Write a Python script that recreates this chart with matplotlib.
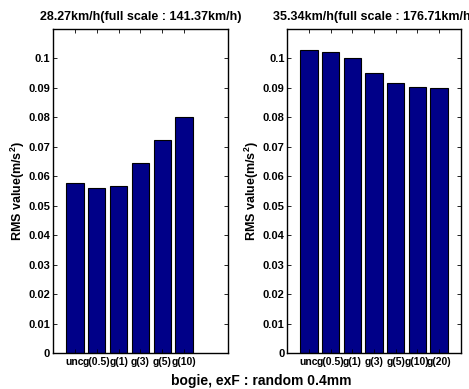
import matplotlib.pyplot as plt
import numpy as np

plt.rcParams['font.family'] = ['Liberation Sans', 'DejaVu Sans']
plt.rcParams['font.weight'] = 'bold'
plt.rcParams['mathtext.fontset'] = 'custom'
plt.rcParams['mathtext.rm'] = 'Liberation Sans:bold'
plt.rcParams['mathtext.bf'] = 'Liberation Sans:bold'

# data
labels_left = ['unc', 'g(0.5)', 'g(1)', 'g(3)', 'g(5)', 'g(10)']
rms_left = [0.0578, 0.0559, 0.0566, 0.0644, 0.0724, 0.0800]
labels_right = ['unc', 'g(0.5)', 'g(1)', 'g(3)', 'g(5)', 'g(10)', 'g(20)']
rms_right = [0.1028, 0.1020, 0.1000, 0.0949, 0.0915, 0.0904, 0.0900]
titles = ['28.27km/h(full scale : 141.37km/h)', '35.34km/h(full scale : 176.71km/h)']
yticks = [0, 0.01, 0.02, 0.03, 0.04, 0.05, 0.06, 0.07, 0.08, 0.09, 0.1]
ytick_labels = ['0', '0.01', '0.02', '0.03', '0.04', '0.05', '0.06', '0.07', '0.08', '0.09', '0.1']

fig = plt.figure(figsize=(4.69, 3.89), dpi=100)
ax1 = fig.add_axes([0.113, 0.092, 0.373, 0.834])
ax2 = fig.add_axes([0.6126, 0.092, 0.3697, 0.834])

for ax, labels, vals, title in [(ax1, labels_left, rms_left, titles[0]),
                                (ax2, labels_right, rms_right, titles[1])]:
    x = np.arange(1, len(vals) + 1)
    ax.bar(x, vals, width=0.8, color='#000088', edgecolor='black', linewidth=0.8)
    ax.set_xlim(0, 8)
    ax.set_ylim(0, 0.11)
    ax.set_xticks(x)
    ax.set_xticklabels(labels, fontsize=7.5, fontweight='bold')
    ax.set_yticks(yticks)
    ax.set_yticklabels(ytick_labels, fontsize=8, fontweight='bold')
    ax.tick_params(direction='in', length=3, width=0.6, top=True, right=True, pad=2)
    ax.tick_params(axis='x', pad=3)
    for s in ax.spines.values():
        s.set_linewidth(1.0)
    ax.set_title(title, fontsize=9, fontweight='bold', pad=6)
    ax.set_ylabel('RMS value(m/s$^2$)', fontsize=9, fontweight='bold', labelpad=1)

fig.text(0.557, 0.021, 'bogie, exF : random 0.4mm', ha='center', va='center',
         fontsize=10, fontweight='bold')

fig.savefig('out.png', dpi=100)
